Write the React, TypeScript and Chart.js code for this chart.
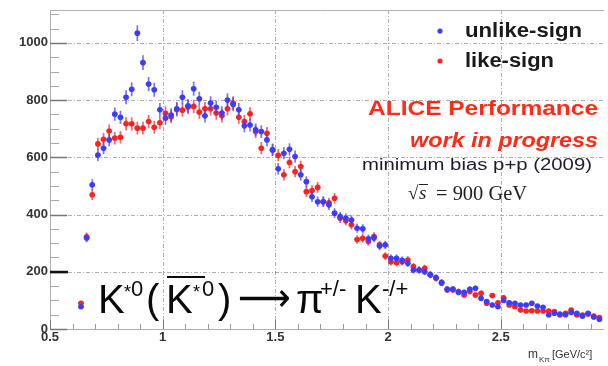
import React, { useEffect, useRef } from "react";
import { Chart, registerables } from "chart.js";

Chart.register(...registerables);

// invariant mass bin centres (GeV/c^2)
const massBins = [
  0.6375, 0.6625, 0.6875, 0.7125, 0.7375, 0.7625, 0.7875, 0.8125, 0.8375, 0.8625,
  0.8875, 0.9125, 0.9375, 0.9625, 0.9875, 1.0125, 1.0375, 1.0625, 1.0875, 1.1125,
  1.1375, 1.1625, 1.1875, 1.2125, 1.2375, 1.2625, 1.2875, 1.3125, 1.3375, 1.3625,
  1.3875, 1.4125, 1.4375, 1.4625, 1.4875, 1.5125, 1.5375, 1.5625, 1.5875, 1.6125,
  1.6375, 1.6625, 1.6875, 1.7125, 1.7375, 1.7625, 1.7875, 1.8125, 1.8375, 1.8625,
  1.8875, 1.9125, 1.9375, 1.9625, 1.9875, 2.0125, 2.0375, 2.0625, 2.0875, 2.1125,
  2.1375, 2.1625, 2.1875, 2.2125, 2.2375, 2.2625, 2.2875, 2.3125, 2.3375, 2.3625,
  2.3875, 2.4125, 2.4375, 2.4625, 2.4875, 2.5125, 2.5375, 2.5625, 2.5875, 2.6125,
  2.6375, 2.6625, 2.6875, 2.7125, 2.7375, 2.7625, 2.7875, 2.8125, 2.8375, 2.8625,
  2.8875, 2.9125, 2.9375,
];

const unlikeSign = [
  78, 318, 504, 608, 632, 661, 751, 740, 810, 838,
  1034, 931, 856, 836, 766, 737, 748, 770, 810, 780,
  840, 805, 745, 790, 775, 755, 800, 785, 766, 710,
  713, 696, 690, 661, 626, 560, 614, 628, 603, 539,
  515, 462, 445, 445, 434, 405, 393, 387, 381, 352,
  350, 315, 318, 290, 294, 247, 247, 240, 230, 206,
  206, 200, 190, 180, 163, 140, 140, 128, 128, 139,
  142, 107, 96, 84, 78, 100, 92, 90, 84, 84,
  90, 80, 76, 49, 55, 52, 50, 58, 55, 45,
  55, 42, 34,
];

const likeSign = [
  90, 322, 469, 647, 663, 692, 667, 670, 717, 717,
  702, 702, 725, 705, 721, 754, 742, 766, 765, 775,
  778, 758, 770, 770, 755, 745, 770, 790, 740, 725,
  752, 690, 632, 684, 626, 607, 539, 582, 550, 568,
  480, 484, 495, 445, 441, 457, 387, 378, 364, 313,
  317, 306, 323, 294, 255, 235, 232, 235, 241, 218,
  206, 212, 189, 177, 160, 136, 136, 131, 119, 131,
  119, 125, 90, 117, 92, 109, 84, 78, 66, 63,
  64, 63, 63, 63, 61, 49, 55, 66, 49, 49,
  52, 45, 40,
];

const xTickLabels = ["0.5", "1", "1.5", "2", "2.5"];
const yTickLabels = ["0", "200", "400", "600", "800", "1000"];
const seriesNames = ["unlike-sign", "like-sign"];

const BLUE = "rgb(60,60,250)";
const RED = "rgb(250,35,35)";
const BLUE_ERR = "rgba(60,60,250,0.7)";
const RED_ERR = "rgba(250,35,35,0.7)";
const SANS = '"Liberation Sans", Arial, "DejaVu Sans", sans-serif';
const SERIF = '"Liberation Serif", "Times New Roman", "DejaVu Serif", serif';

function drawFit(ctx: CanvasRenderingContext2D, text: string, x: number, y: number, w: number, font: string, color: string) {
  ctx.save();
  ctx.font = font;
  ctx.fillStyle = color;
  ctx.textBaseline = "alphabetic";
  ctx.textAlign = "left";
  const m = ctx.measureText(text).width;
  ctx.translate(x, y);
  ctx.scale(w / m, 1);
  ctx.fillText(text, 0, 0);
  ctx.restore();
}

const framePlugin = {
  id: "frame",
  beforeDatasetsDraw(chart: any) {
    const { ctx, chartArea: a, scales } = chart;
    const xs = scales.x;
    const ys = scales.y;
    ctx.save();
    // grid lines
    ctx.strokeStyle = "rgba(110,110,110,0.55)";
    ctx.lineWidth = 1;
    ctx.setLineDash([4, 2, 1, 2]);
    yTickLabels.forEach((t) => {
      const v = parseFloat(t);
      if (v === 0) return;
      const py = Math.round(ys.getPixelForValue(v)) + 0.5;
      ctx.beginPath();
      ctx.moveTo(a.left, py);
      ctx.lineTo(a.right, py);
      ctx.stroke();
    });
    xTickLabels.forEach((t) => {
      const v = parseFloat(t);
      if (v === 0.5) return;
      const px = Math.round(xs.getPixelForValue(v)) + 0.5;
      ctx.beginPath();
      ctx.moveTo(px, a.top);
      ctx.lineTo(px, a.bottom);
      ctx.stroke();
    });
    ctx.setLineDash([]);
    // frame
    ctx.strokeStyle = "#b0b0b0";
    ctx.beginPath();
    ctx.moveTo(a.left + 0.5, a.top + 0.5);
    ctx.lineTo(a.right, a.top + 0.5);
    ctx.moveTo(a.left + 0.5, a.top);
    ctx.lineTo(a.left + 0.5, a.bottom);
    ctx.moveTo(a.left, a.bottom + 0.5);
    ctx.lineTo(a.right, a.bottom + 0.5);
    ctx.stroke();
    // y ticks
    for (let v = 0; v <= 1100; v += 50) {
      const py = Math.round(ys.getPixelForValue(v)) + 0.5;
      const major = v % 200 === 0;
      ctx.strokeStyle = major ? "#777" : "#aaa";
      ctx.lineWidth = major ? 1.5 : 1;
      ctx.beginPath();
      ctx.moveTo(a.left, py);
      ctx.lineTo(a.left + (major ? 17 : 9), py);
      ctx.stroke();
    }
    // darker tick at 200
    ctx.strokeStyle = "#111";
    ctx.lineWidth = 2.5;
    const p200 = Math.round(ys.getPixelForValue(200));
    ctx.beginPath();
    ctx.moveTo(a.left, p200);
    ctx.lineTo(a.left + 18, p200);
    ctx.stroke();
    // x ticks
    for (let i = 0; i <= 25; i++) {
      const v = 0.5 + i * 0.1;
      const px = Math.round(xs.getPixelForValue(v)) + 0.5;
      if (px > a.right) break;
      const major = i % 5 === 0;
      ctx.strokeStyle = major ? "#777" : "#999";
      ctx.lineWidth = 1;
      ctx.beginPath();
      ctx.moveTo(px, a.bottom);
      ctx.lineTo(px, a.bottom - (major ? 9 : 5));
      ctx.stroke();
    }
    ctx.restore();
  },
  beforeDatasetDraw(chart: any, args: any) {
    const { ctx, scales } = chart;
    const ys = scales.y;
    const xs = scales.x;
    const meta = args.meta;
    const color = args.index === 0 ? BLUE_ERR : RED_ERR;
    const values = args.index === 0 ? unlikeSign : likeSign;
    ctx.save();
    ctx.strokeStyle = color;
    ctx.lineWidth = 1.7;
    meta.data.forEach((el: any, i: number) => {
      const v = values[i];
      const e = 0.85 * Math.sqrt(v);
      const y1 = ys.getPixelForValue(v + e);
      const y2 = ys.getPixelForValue(v - e);
      const xl = xs.getPixelForValue(massBins[i] - 0.0125);
      const xr = xs.getPixelForValue(massBins[i] + 0.0125);
      ctx.beginPath();
      ctx.moveTo(el.x, y1);
      ctx.lineTo(el.x, y2);
      ctx.moveTo(xl, el.y);
      ctx.lineTo(xr, el.y);
      ctx.stroke();
    });
    ctx.restore();
  },
  afterDraw(chart: any) {
    const { ctx } = chart;
    ctx.save();
    // legend
    ctx.fillStyle = BLUE;
    ctx.beginPath();
    ctx.arc(440, 31, 2.6, 0, Math.PI * 2);
    ctx.fill();
    ctx.fillStyle = RED;
    ctx.beginPath();
    ctx.arc(440, 61, 2.6, 0, Math.PI * 2);
    ctx.fill();
    drawFit(ctx, seriesNames[0], 465, 37, 117, `bold 20px ${SANS}`, "#1a1a1a");
    drawFit(ctx, seriesNames[1], 465, 67, 89, `bold 20px ${SANS}`, "#1a1a1a");

    // ALICE labels
    drawFit(ctx, "ALICE Performance", 368, 115, 230, `bold 21px ${SANS}`, "#ff2a1a");
    drawFit(ctx, "work in progress", 410, 147, 188, `italic bold 21px ${SANS}`, "#ff2a1a");
    drawFit(ctx, "minimum bias p+p (2009)", 362, 170, 230, `16px ${SANS}`, "#1c1c30");

    // sqrt(s) = 900 GeV
    ctx.fillStyle = "#222";
    ctx.strokeStyle = "#222";
    ctx.font = `19px ${SERIF}`;
    ctx.fillText("\u221A", 408, 199);
    ctx.lineWidth = 1;
    ctx.beginPath();
    ctx.moveTo(419, 184.5);
    ctx.lineTo(428, 184.5);
    ctx.stroke();
    ctx.font = `italic 19px ${SERIF}`;
    ctx.fillText("s", 419, 199);
    drawFit(ctx, "= 900 GeV", 436, 200, 91, `20px ${SERIF}`, "#222");

    // axis title
    ctx.fillStyle = "#333";
    ctx.font = `12px ${SANS}`;
    ctx.fillText("m", 528, 358);
    ctx.font = `8px ${SANS}`;
    ctx.fillText("K\u03C0", 539, 362);
    ctx.font = `11px ${SANS}`;
    ctx.fillText("[GeV/c\u00B2]", 552, 358);

    // big formula
    const big = `40px ${SANS}`;
    const sup = `22px ${SANS}`;
    const star = `18px ${SANS}`;
    const base = 313;
    const sb = 296;
    ctx.fillStyle = "#0a0a0a";
    ctx.font = big; ctx.fillText("K", 98, base);
    ctx.font = star; ctx.fillText("*", 124, sb + 2);
    ctx.font = sup; ctx.fillText("0", 131, sb);
    ctx.font = big; ctx.fillText("(", 146, base);
    ctx.font = big; ctx.fillText("K", 166, base);
    ctx.font = star; ctx.fillText("*", 193, sb + 2);
    ctx.font = sup; ctx.fillText("0", 202, sb);
    ctx.lineWidth = 2;
    ctx.strokeStyle = "#0a0a0a";
    ctx.beginPath();
    ctx.moveTo(167, 277);
    ctx.lineTo(205, 277);
    ctx.stroke();
    ctx.font = big; ctx.fillText(")", 218, base);
    drawFit(ctx, "\u27F6", 238, base - 2, 53, `40px "DejaVu Sans", ${SANS}`, "#0a0a0a");
    ctx.font = big; ctx.fillText("\u03C0", 296, base);
    ctx.font = sup; ctx.fillText("+/-", 320, sb);
    ctx.font = big; ctx.fillText("K", 355, base);
    ctx.font = sup; ctx.fillText("-/+", 382, sb);
    ctx.restore();
  },
};

export default function App() {
  const ref = useRef<HTMLCanvasElement | null>(null);
  useEffect(() => {
    if (!ref.current) return;
    const tickFont = { family: SANS, size: 13, weight: "bold" as const };
    const chart = new Chart(ref.current, {
      type: "scatter",
      data: {
        datasets: [
          {
            label: seriesNames[0],
            data: massBins.map((x, i) => ({ x, y: unlikeSign[i] })),
            backgroundColor: BLUE,
            borderWidth: 0,
            pointRadius: 2.8,
            showLine: false,
          },
          {
            label: seriesNames[1],
            data: massBins.map((x, i) => ({ x, y: likeSign[i] })),
            backgroundColor: RED,
            borderWidth: 0,
            pointRadius: 2.8,
            showLine: false,
          },
        ],
      },
      options: {
        animation: false,
        responsive: false,
        maintainAspectRatio: false,
        layout: { padding: { top: 10, left: 0, right: 0, bottom: 0 } },
        plugins: { legend: { display: false }, tooltip: { enabled: false } },
        scales: {
          x: {
            type: "linear",
            min: 0.5,
            max: 2.958,
            grid: { display: false, drawTicks: false },
            border: { display: false },
            afterBuildTicks: (s: any) => {
              s.ticks = xTickLabels.map((t) => ({ value: parseFloat(t) }));
            },
            ticks: {
              autoSkip: false,
              maxRotation: 0,
              padding: 1,
              color: "#333",
              font: tickFont,
              callback: (v: any) => {
                const idx = xTickLabels.findIndex((t) => parseFloat(t) === Number(v));
                return idx >= 0 ? xTickLabels[idx] : "";
              },
            },
            afterFit: (s: any) => {
              s.height = 37;
            },
          },
          y: {
            type: "linear",
            min: 0,
            max: 1115,
            grid: { display: false, drawTicks: false },
            border: { display: false },
            afterBuildTicks: (s: any) => {
              s.ticks = yTickLabels.map((t) => ({ value: parseFloat(t) }));
            },
            ticks: {
              autoSkip: false,
              padding: 2,
              color: "#333",
              font: tickFont,
              callback: (v: any) => {
                const idx = yTickLabels.findIndex((t) => parseFloat(t) === Number(v));
                return idx >= 0 ? yTickLabels[idx] : "";
              },
            },
            afterFit: (s: any) => {
              s.width = 50;
            },
          },
        },
      },
      plugins: [framePlugin],
    });
    return () => chart.destroy();
  }, []);

  return (
    <div style={{ position: "fixed", left: 0, top: 0, width: 608, height: 366, background: "#fff" }}>
      <canvas ref={ref} width={608} height={366} style={{ display: "block" }} />
    </div>
  );
}
